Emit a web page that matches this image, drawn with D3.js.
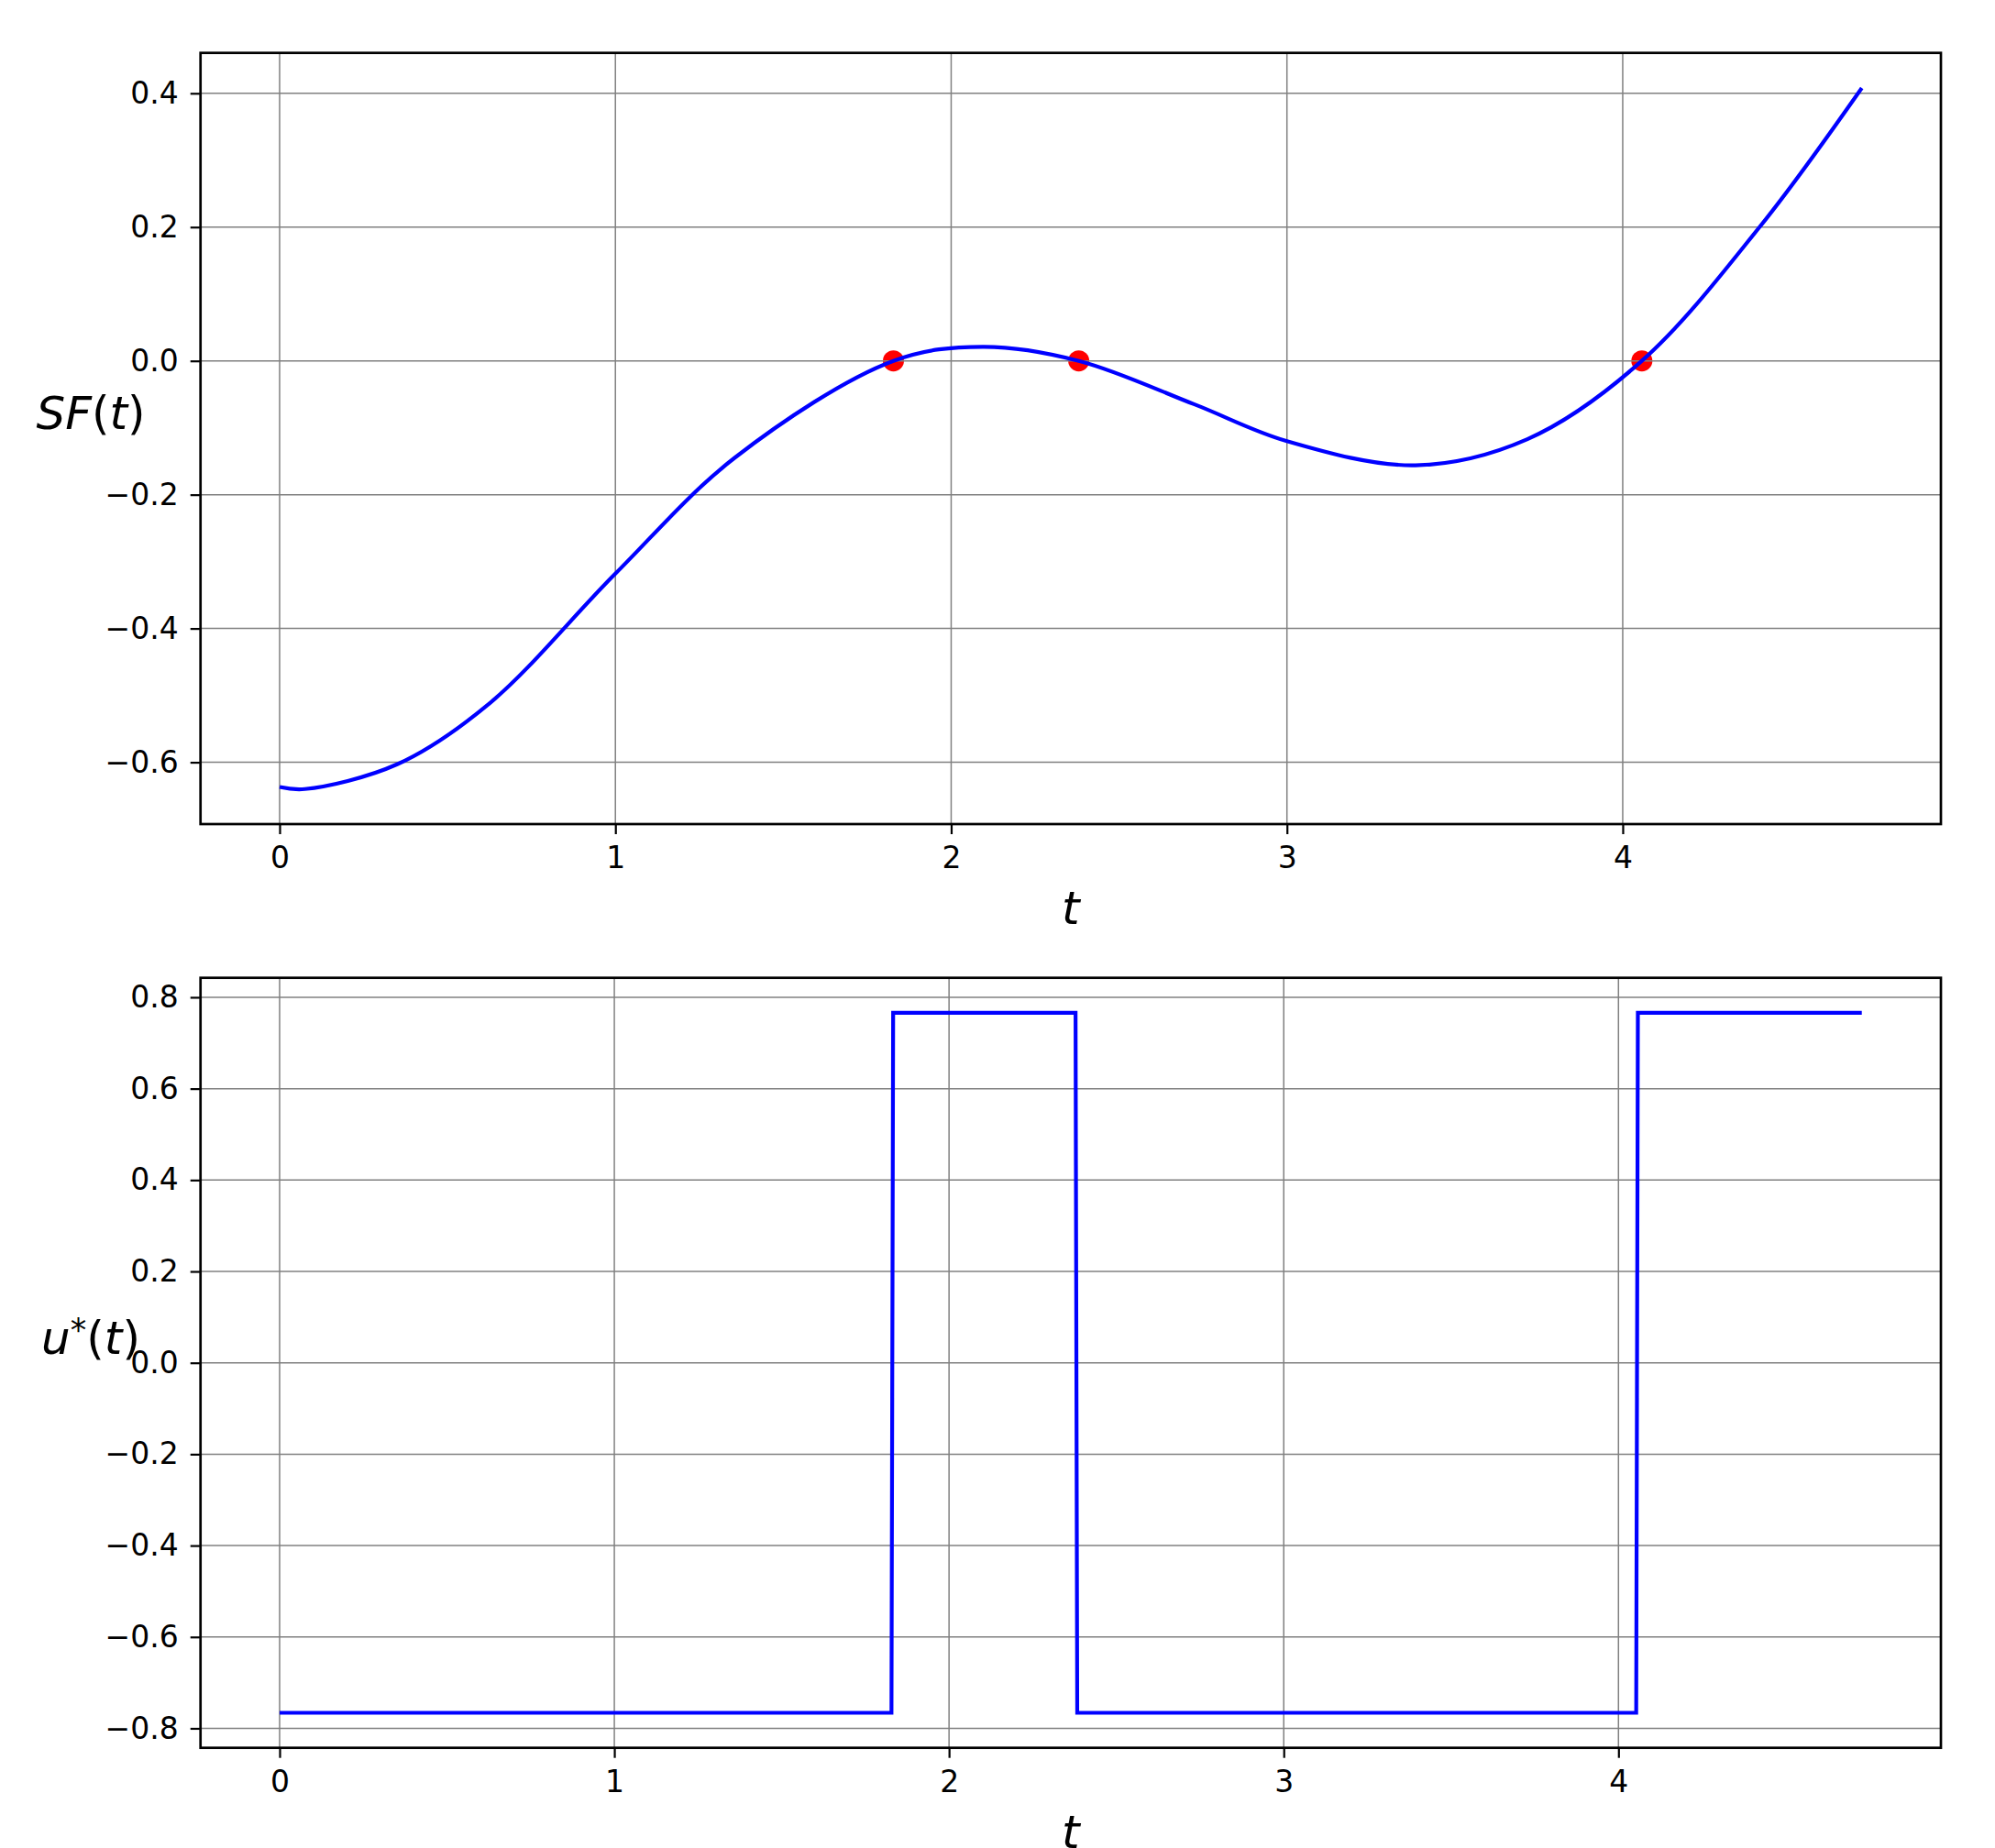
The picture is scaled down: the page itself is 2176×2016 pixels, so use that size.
<!DOCTYPE html>
<html>
<head>
<meta charset="utf-8">
<script src="https://cdn.jsdelivr.net/npm/d3@7"></script>
<style>
  body { margin: 0; background: #fff; }
  svg text { font-family: "DejaVu Sans", sans-serif; fill: #000; }
  .axis .tick text { font-size: 33px; }
  .axis .tick line { stroke: #000; stroke-width: 2.2; }
  .grid line { stroke: #808080; stroke-width: 1.5; }
</style>
</head>
<body>
<div id="chart"></div>
<script>

// Switching function SF(t)
const sfTime  = [0, 0.075, 0.35, 0.625, 1.0, 1.355, 1.828, 2.094, 2.380,
                 2.723, 3.0, 3.383, 3.716, 4.057, 4.409, 4.712];
const sfValue = [-0.637, -0.640, -0.603, -0.512, -0.318, -0.145, 0, 0.021, 0,
                 -0.0647, -0.120, -0.156, -0.117, 0, 0.201, 0.408];

// Switch points where SF(t) = 0
const switchTime = [1.828, 2.380, 4.057];

// Optimal control u*(t)
const uTime  = [0, 1.828, 1.833, 2.378, 2.383, 4.053, 4.058, 4.727];
const uValue = [-0.766, -0.766, 0.766, 0.766, -0.766, -0.766, 0.766, 0.766];

// Tick labels
const tTicks  = [0, 1, 2, 3, 4];
const sfTicks = [-0.6, -0.4, -0.2, 0.0, 0.2, 0.4];
const uTicks  = [-0.8, -0.6, -0.4, -0.2, 0.0, 0.2, 0.4, 0.6, 0.8];

const W = 2176, H = 2016;

const svg = d3.select("#chart")
  .append("svg")
    .attr("width", W)
    .attr("height", H)
    .style("display", "block");

svg.append("rect").attr("width", W).attr("height", H).attr("fill", "#fff");

// matplotlib-like 5% margins around the data
function padded(values) {
  const [lo, hi] = d3.extent(values);
  const m = (hi - lo) * 0.05;
  return [lo - m, hi + m];
}

function panel(box, xs, ys, yTicks, yLabel) {
  const x = d3.scaleLinear().domain(padded(xs)).range([box.left, box.right]);
  const y = d3.scaleLinear().domain(padded(ys)).range([box.bottom, box.top]);
  const g = svg.append("g");

  // Grid
  const grid = g.append("g").attr("class", "grid");
  grid.selectAll(".gx")
    .data(tTicks)
    .join("line")
      .attr("class", "gx")
      .attr("x1", d => x(d)).attr("x2", d => x(d))
      .attr("y1", box.top).attr("y2", box.bottom);
  grid.selectAll(".gy")
    .data(yTicks)
    .join("line")
      .attr("class", "gy")
      .attr("x1", box.left).attr("x2", box.right)
      .attr("y1", d => y(d)).attr("y2", d => y(d));

  // X axis
  g.append("g")
    .attr("class", "axis")
    .attr("transform", `translate(0,${box.bottom})`)
    .call(d3.axisBottom(x).tickValues(tTicks).tickSize(11).tickPadding(14).tickFormat(d3.format("d")))
    .call(a => a.select(".domain").remove());

  // Y axis
  g.append("g")
    .attr("class", "axis")
    .attr("transform", `translate(${box.left},0)`)
    .call(d3.axisLeft(y).tickValues(yTicks).tickSize(11).tickPadding(13).tickFormat(d3.format(".1f")))
    .call(a => a.select(".domain").remove());

  // Axis labels
  const cy = (box.top + box.bottom) / 2;
  g.append("text")
    .attr("x", (box.left + box.right) / 2)
    .attr("y", box.bottom + 109)
    .attr("text-anchor", "middle")
    .style("font-size", "50px")
    .style("font-style", "italic")
    .text("t");

  const yl = g.append("text")
    .attr("x", 99)
    .attr("y", cy - 10)
    .attr("text-anchor", "middle")
    .style("font-size", "50px");
  yLabel(yl);

  return {g, x, y, box};
}

// Top panel: switching function
const sfPanel = panel({left: 218.7, right: 2117, top: 57.7, bottom: 899},
  sfTime, sfValue, sfTicks,
  t => {
    t.append("tspan").style("font-style", "italic").text("SF");
    t.append("tspan").text("(");
    t.append("tspan").style("font-style", "italic").text("t");
    t.append("tspan").text(")");
  });

sfPanel.g.insert("g", ".grid")
  .selectAll("circle")
  .data(switchTime)
  .join("circle")
    .attr("cx", d => sfPanel.x(d))
    .attr("cy", sfPanel.y(0))
    .attr("r", 11.5)
    .attr("fill", "#ff0000");

sfPanel.g.append("path")
  .datum(sfTime.map((t, i) => [t, sfValue[i]]))
  .attr("fill", "none")
  .attr("stroke", "#0000ff")
  .attr("stroke-width", 4.2)
  .attr("d", d3.line().x(d => sfPanel.x(d[0])).y(d => sfPanel.y(d[1])).curve(d3.curveCatmullRom.alpha(0.5)));

// Bottom panel: optimal control
const uPanel = panel({left: 218.7, right: 2117, top: 1066.7, bottom: 1906.7},
  uTime, uValue, uTicks,
  t => {
    t.append("tspan").style("font-style", "italic").text("u");
    t.append("tspan").attr("dy", -14).style("font-size", "35px").text("*");
    t.append("tspan").attr("dy", 14).text("(");
    t.append("tspan").style("font-style", "italic").text("t");
    t.append("tspan").text(")");
  });

uPanel.g.append("path")
  .datum(uTime.map((t, i) => [t, uValue[i]]))
  .attr("fill", "none")
  .attr("stroke", "#0000ff")
  .attr("stroke-width", 4.2)
  .attr("d", d3.line().x(d => uPanel.x(d[0])).y(d => uPanel.y(d[1])));

// Frames on top
[sfPanel, uPanel].forEach(p => {
  svg.append("rect")
    .attr("x", p.box.left)
    .attr("y", p.box.top)
    .attr("width", p.box.right - p.box.left)
    .attr("height", p.box.bottom - p.box.top)
    .attr("fill", "none")
    .attr("stroke", "#000")
    .attr("stroke-width", 2.7);
});

</script>
</body>
</html>
